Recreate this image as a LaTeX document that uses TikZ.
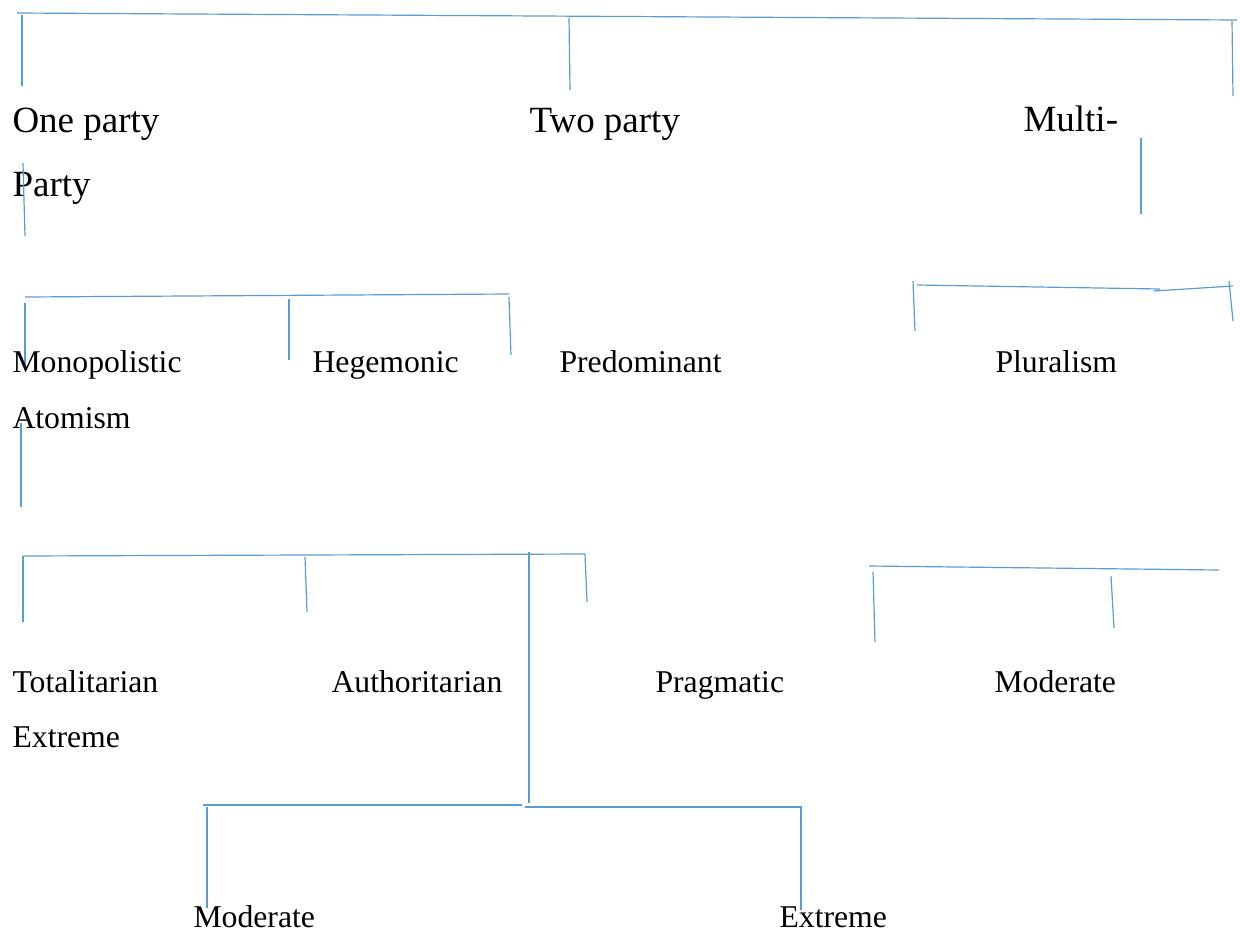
\documentclass[tikz,border=0pt]{standalone}
\usepackage{fontspec}
\setmainfont{Liberation Serif}
\definecolor{linkblue}{RGB}{91,155,213}
\tikzset{link/.style = {draw=linkblue, line width=0.45pt},
         big/.style = {anchor=base west, inner sep=0pt, font=\fontsize{14}{17}\selectfont},
         small/.style = {anchor=base west, inner sep=0pt, font=\fontsize{12}{14}\selectfont}}

\begin{document}
\begin{tikzpicture}[x=0.3785pt,y=-0.3785pt]
    \useasboundingbox(0,0)rectangle(1240,932);

    % party systems
    \draw[link](17,13)--(1237,20);
    \draw[link](22,15)--(22,86);
    \draw[link](569,18)--(570,90);
    \draw[link](1232,21)--(1233,96);
    \node[big](oneparty)at(12,132){One party};
    \node[big](twoparty)at(529,132){Two party};
    \node[big](multi)at(1023,131){Multi-};
    \node[big](party)at(12,196){Party};
    \draw[link](23,163)--(25,236);
    \draw[link](1141,138)--(1141,214);

    % second level
    \draw[link](25,297)--(509,294);
    \draw[link](25,303)--(25,365);
    \draw[link](289,299)--(289,360);
    \draw[link](509,297)--(511,355);
    \draw[link](913,281)--(915,331);
    \draw[link](917,285)--(1160,289);
    \draw[link](1154,291)--(1233,286);
    \draw[link](1229,281)--(1233,321);
    \node[small](monopolistic)at(12,372){Monopolistic};
    \node[small](hegemonic)at(312,372){Hegemonic};
    \node[small](predominant)at(559,372){Predominant};
    \node[small](pluralism)at(995,372){Pluralism};
    \node[small](atomism)at(12,428){Atomism};
    \draw[link](21,423)--(21,507);

    % third level
    \draw[link](23,556)--(585,554);
    \draw[link](23,556)--(23,622);
    \draw[link](305,557)--(307,612);
    \draw[link](585,554)--(587,602);
    \draw[link](529,552)--(529,803);
    \draw[link](869,566)--(1219,570);
    \draw[link](873,572)--(875,642);
    \draw[link](1111,576)--(1114,628);
    \node[small](totalitarian)at(12,692){Totalitarian};
    \node[small](authoritarian)at(331,692){Authoritarian};
    \node[small](pragmatic)at(655,692){Pragmatic};
    \node[small](moderateA)at(994,692){Moderate};
    \node[small](extremeA)at(12,747){Extreme};

    % fourth level
    \draw[link](203,805)--(522,805);
    \draw[link](525,807)--(802,807);
    \draw[link](207,807)--(207,908);
    \draw[link](801,807)--(801,910);
    \node[small](moderateB)at(193,927){Moderate};
    \node[small](extremeB)at(779,927){Extreme};
\end{tikzpicture}
\end{document}
